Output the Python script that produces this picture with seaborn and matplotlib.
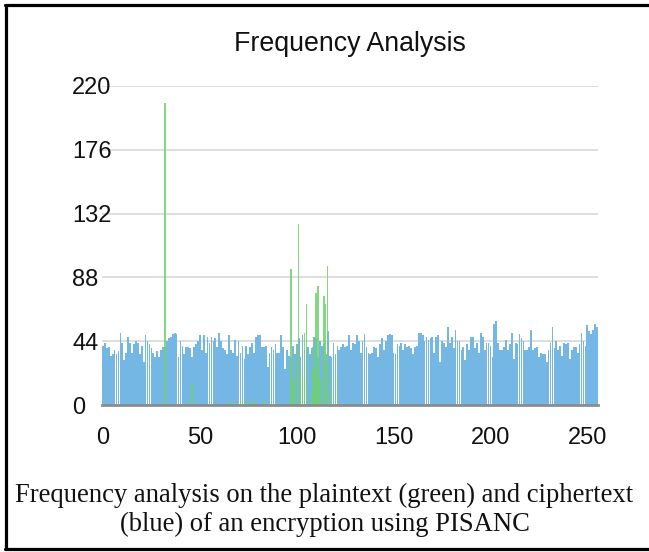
import numpy as np
import pandas as pd
import matplotlib
matplotlib.use("Agg")
import matplotlib.pyplot as plt
from matplotlib.lines import Line2D
import seaborn as sns

# ---- data ----
byte_values = list(range(256))

cipher_counts = [
    41, 43, 39, 40, 34, 35, 38, 35, 37, 50, 43, 31, 36, 47, 43, 36,
    42, 44, 43, 35, 41, 30, 48, 44, 42, 39, 36, 33, 37, 33, 38, 40,
    40, 44, 46, 47, 49, 50, 49, 33, 44, 41, 35, 40, 40, 39, 33, 40,
    42, 44, 48, 38, 48, 36, 47, 43, 47, 44, 46, 40, 50, 44, 39, 38,
    35, 48, 38, 36, 45, 34, 44, 36, 41, 32, 41, 35, 40, 43, 36, 47,
    48, 48, 40, 40, 41, 26, 36, 40, 38, 42, 36, 36, 48, 40, 25, 38,
    34, 33, 41, 35, 42, 46, 33, 48, 38, 40, 40, 35, 39, 47, 46, 33,
    44, 41, 42, 35, 51, 34, 33, 43, 35, 41, 38, 40, 42, 40, 41, 48,
    38, 43, 42, 48, 44, 36, 44, 49, 40, 36, 35, 36, 40, 39, 33, 42,
    46, 38, 44, 48, 49, 48, 36, 35, 42, 41, 43, 38, 42, 40, 41, 39,
    35, 40, 41, 50, 50, 48, 44, 47, 45, 46, 47, 36, 47, 48, 30, 44,
    43, 40, 54, 43, 47, 39, 52, 44, 44, 38, 40, 31, 42, 38, 47, 47,
    39, 43, 36, 50, 47, 38, 43, 43, 41, 33, 56, 58, 43, 38, 38, 40,
    45, 38, 42, 50, 32, 43, 42, 49, 46, 44, 38, 38, 40, 52, 38, 39,
    40, 33, 36, 35, 35, 30, 38, 43, 54, 39, 44, 38, 41, 34, 43, 42,
    43, 32, 38, 40, 40, 36, 42, 50, 44, 41, 55, 51, 49, 52, 56, 54,
]

plain_codes = [32, 39, 44, 45, 46, 58, 65, 67, 69, 70, 71, 72, 73, 76, 77, 78,
               83, 84, 87, 97, 98, 99, 100, 101, 102, 103, 104, 105, 106, 107,
               108, 109, 110, 111, 112, 113, 114, 115, 116, 117, 118, 119, 120,
               121, 122]
plain_counts = [208, 1, 3, 1, 15, 2, 2, 2, 1, 2, 4, 3, 5, 2, 2, 2,
                3, 4, 2, 94, 18, 30, 42, 125, 22, 20, 50, 70, 2, 8,
                40, 25, 77, 82, 18, 1, 75, 70, 96, 28, 10, 22, 2,
                20, 1]

y_ticks = [0, 44, 88, 132, 176, 220]
x_ticks = [0, 50, 100, 150, 200, 250]
title_text = "Frequency Analysis"
caption_lines = ["Frequency analysis on the plaintext (green) and ciphertext",
                 "(blue) of an encryption using PISANC"]

cipher_df = pd.DataFrame({"byte": byte_values, "count": cipher_counts})
plain_df = pd.DataFrame({"byte": plain_codes, "count": plain_counts})

# ---- figure ----
sns.set_theme(style="white")
plt.rcParams["font.family"] = ["Liberation Sans", "DejaVu Sans"]

W, H = 649, 552
fig = plt.figure(figsize=(W / 100, H / 100), dpi=100)
ax = fig.add_axes([102 / W, 1 - 405 / H, (598 - 102) / W, (405 - 86) / H])

sns.barplot(data=cipher_df, x="byte", y="count", native_scale=True,
            color="#74b6e4", saturation=1, width=0.9, ax=ax,
            errorbar=None, edgecolor="none", linewidth=0, zorder=2)
sns.barplot(data=plain_df, x="byte", y="count", native_scale=True,
            color="#6fd26f", saturation=1, width=0.7, ax=ax,
            errorbar=None, edgecolor="none", linewidth=0, zorder=3,
            alpha=0.85)

ax.set_xlim(-0.5, 255.5)
ax.set_ylim(0, 220)
ax.set_xticks(x_ticks)
ax.set_xticklabels([str(t) for t in x_ticks])
ax.set_yticks(y_ticks)
ax.set_yticklabels([str(t) for t in y_ticks])
ax.set_xlabel("")
ax.set_ylabel("")

ax.yaxis.grid(True, color="#d4d4d4", linewidth=1.1)
ax.xaxis.grid(False)
ax.set_axisbelow(True)
for s in ["top", "right", "left"]:
    ax.spines[s].set_visible(False)
ax.spines["bottom"].set_color("#8c8c8c")
ax.spines["bottom"].set_linewidth(2.0)
ax.spines["bottom"].set_zorder(5)

ax.tick_params(axis="both", length=0, labelsize=17, colors="#111111")
ax.tick_params(axis="x", pad=16)
ax.tick_params(axis="y", pad=21.5)
for lab in ax.get_yticklabels():
    lab.set_horizontalalignment("left")

fig.text(350 / W, 1 - 44 / H, title_text, ha="center", va="center",
         fontsize=19.3, color="#111111")

for i, line in enumerate(caption_lines):
    fig.text(0.5, 1 - (495 + 29 * i) / H, line, ha="center", va="center",
             fontsize=19.2, family=["Liberation Serif", "DejaVu Serif"],
             color="#111111")

# frame
lw = 2.3
fig.add_artist(Line2D([5 / W, 1.0], [1 - 4.5 / H, 1 - 4.5 / H], color="black", linewidth=lw))
fig.add_artist(Line2D([6 / W, 6 / W], [1 - 4.5 / H, 1 - 549 / H], color="black", linewidth=lw))
fig.add_artist(Line2D([5 / W, 1.0], [1 - 549 / H, 1 - 549 / H], color="black", linewidth=lw))

fig.savefig("out.png", dpi=100)
